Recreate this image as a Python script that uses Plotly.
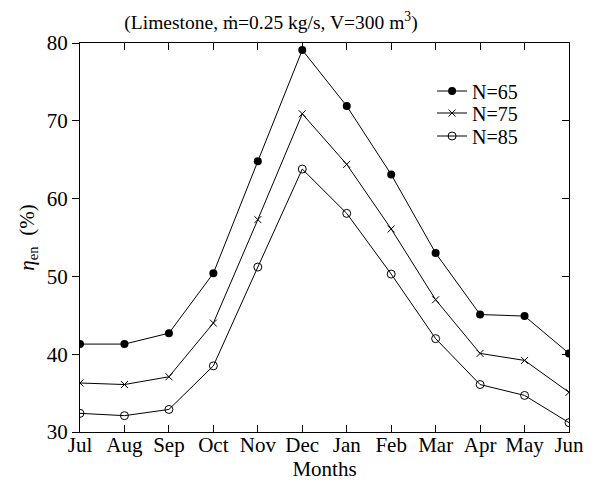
import plotly.graph_objects as go

months = ["Jul", "Aug", "Sep", "Oct", "Nov", "Dec", "Jan", "Feb", "Mar", "Apr", "May", "Jun"]
n65 = [41.3, 41.3, 42.7, 50.4, 64.8, 79.1, 71.9, 63.1, 53.0, 45.1, 44.9, 40.1]
n75 = [36.3, 36.1, 37.1, 44.0, 57.3, 70.9, 64.4, 56.1, 47.0, 40.1, 39.2, 35.1]
n85 = [32.4, 32.1, 32.9, 38.5, 51.2, 63.8, 58.1, 50.3, 42.0, 36.1, 34.7, 31.2]
series_names = ["N=65", "N=75", "N=85"]
yticks = [30, 40, 50, 60, 70, 80]

FONT = "Liberation Serif, Times New Roman, serif"
x_idx = list(range(len(months)))

fig = go.Figure()
fig.add_trace(go.Scatter(x=x_idx, y=n65, name=series_names[0], mode="lines+markers",
                         legend="legend",
                         line=dict(color="black", width=1),
                         marker=dict(symbol="circle", size=8, color="black")))
fig.add_trace(go.Scatter(x=x_idx, y=n75, name=series_names[1], mode="lines+markers",
                         legend="legend2",
                         line=dict(color="black", width=1),
                         marker=dict(symbol="x-thin", size=7, color="black",
                                     line=dict(color="black", width=1))))
fig.add_trace(go.Scatter(x=x_idx, y=n85, name=series_names[2], mode="lines+markers",
                         legend="legend3",
                         line=dict(color="black", width=1),
                         marker=dict(symbol="circle-open", size=8, color="black",
                                     line=dict(color="black", width=1))))
# invisible trace to activate mirror axes
fig.add_trace(go.Scatter(x=[0], y=[30], xaxis="x2", yaxis="y2", mode="markers",
                         marker=dict(opacity=0), showlegend=False, hoverinfo="skip"))

leg_common = dict(x=0.72, xanchor="left", yanchor="middle",
                  bgcolor="rgba(0,0,0,0)", borderwidth=0,
                  font=dict(family=FONT, size=20), itemwidth=30)

fig.update_layout(
    width=597, height=483,
    margin=dict(l=72, r=36, t=35, b=59),
    paper_bgcolor="white", plot_bgcolor="white",
    font=dict(family=FONT, size=20, color="black"),
    showlegend=True,
    title=dict(text="(Limestone, ṁ=0.25 kg/s, V=300 m<sup>3</sup>)",
               x=263/597, xanchor="center", y=1 - 14/483, yanchor="middle",
               font=dict(family=FONT, size=19.5, color="black")),
    xaxis=dict(range=[0, 11], tickmode="array", tickvals=x_idx, ticktext=months,
               ticks="inside", ticklen=7, tickcolor="black", showline=True,
               linecolor="black", linewidth=1, showgrid=False, zeroline=False,
               ticklabelstandoff=-6,
               title=dict(text="Months", standoff=3, font=dict(size=21)),
               tickfont=dict(size=21)),
    yaxis=dict(range=[30, 80], tickmode="array", tickvals=yticks,
               ticks="outside", ticklen=7, tickcolor="black", showline=True,
               linecolor="black", linewidth=1, showgrid=False, zeroline=False,
               title=dict(text="<i>η</i><sub>en</sub>  (%)", standoff=6, font=dict(size=21)),
               tickfont=dict(size=21)),
    xaxis2=dict(range=[0, 11], overlaying="x", side="top", tickmode="array",
                tickvals=x_idx, ticks="inside", ticklen=7, tickcolor="black",
                showticklabels=False, showline=True, linecolor="black",
                linewidth=1, showgrid=False, zeroline=False),
    yaxis2=dict(range=[30, 80], overlaying="y", side="right", tickmode="array",
                tickvals=yticks, ticks="inside", ticklen=7, tickcolor="black",
                showticklabels=False, showline=True, linecolor="black",
                linewidth=1, showgrid=False, zeroline=False),
    legend=dict(y=(424 - 83) / 389, **leg_common),
    legend2=dict(y=(424 - 105) / 389, **leg_common),
    legend3=dict(y=(424 - 128) / 389, **leg_common),
)

fig.write_html("out.html")
